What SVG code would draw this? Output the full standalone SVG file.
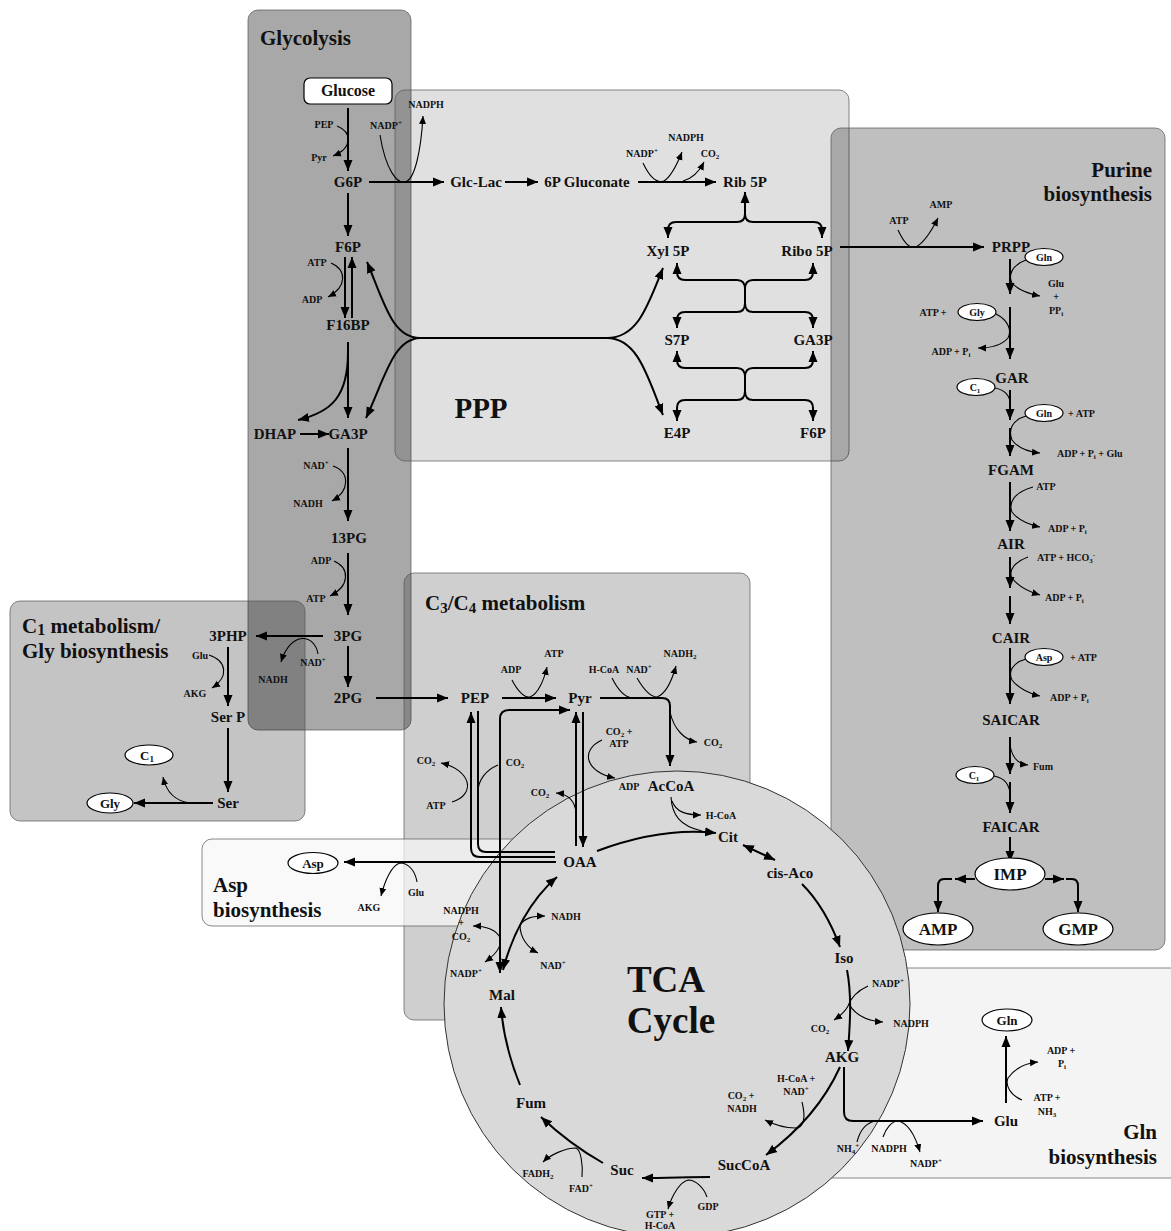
<svg xmlns="http://www.w3.org/2000/svg" width="1171" height="1231" viewBox="0 0 1171 1231">
<defs>
<marker id="A" markerUnits="userSpaceOnUse" markerWidth="12" markerHeight="10" refX="11" refY="5" orient="auto-start-reverse"><path d="M0,0.5 L11,5 L0,9.5 z" fill="#000"/></marker>
<marker id="S" markerUnits="userSpaceOnUse" markerWidth="9" markerHeight="8" refX="8" refY="4" orient="auto-start-reverse"><path d="M0,0.5 L8,4 L0,7.5 z" fill="#000"/></marker>
<style>
.box{stroke:#555;stroke-opacity:.7;stroke-width:1}
text{font-family:"Liberation Serif","Times New Roman",serif;font-weight:bold;fill:#111}
.n{font-size:15px;text-anchor:middle}
.s{font-size:10px;text-anchor:middle}
.sl{font-size:10px;text-anchor:start}
.t{font-size:21px}
.te{font-size:21px;text-anchor:end}
.m{fill:none;stroke:#000;stroke-width:2;marker-end:url(#A)}
.mm{fill:none;stroke:#000;stroke-width:2;marker-end:url(#A);marker-start:url(#A)}
.l{fill:none;stroke:#000;stroke-width:2}
.c{fill:none;stroke:#000;stroke-width:1.1;marker-end:url(#S)}
.cc{fill:none;stroke:#000;stroke-width:1.1;marker-end:url(#S);marker-start:url(#S)}
.k{fill:none;stroke:#000;stroke-width:1.1}
.e{fill:#fff;stroke:#000;stroke-width:1.2}
.sp{font-size:7px}
</style>
</defs>

<g id="compartments">
<rect class="box" x="248" y="10" width="163" height="720" rx="10" fill="#000" fill-opacity=".34"/>
<rect class="box" x="395" y="90" width="454" height="371" rx="10" fill="#000" fill-opacity=".12"/>
<rect class="box" x="10" y="601" width="295" height="220" rx="10" fill="#000" fill-opacity=".23"/>
<rect class="box" x="404" y="573" width="346" height="447" rx="10" fill="#000" fill-opacity=".19"/>
<rect class="box" x="831" y="128" width="334" height="822" rx="10" fill="#000" fill-opacity=".25"/>
<rect class="box" x="202" y="839" width="330" height="87" rx="10" fill="#f6f6f6" fill-opacity=".72"/>
<rect class="box" x="790" y="968" width="400" height="210" rx="0" fill="#f4f4f4"/>
<circle cx="677" cy="1004" r="233" fill="#d9d9d9" stroke="#333" stroke-width="1"/>
</g>

<g id="titles">
<text class="t" x="260" y="45">Glycolysis</text>
<text class="t" x="481" y="418" text-anchor="middle" style="font-size:29px">PPP</text>
<text class="te" x="1152" y="177">Purine</text>
<text class="te" x="1152" y="201">biosynthesis</text>
<text class="t" x="22" y="633">C<tspan font-size="16" dy="2">1</tspan><tspan dy="-2"> metabolism/</tspan></text>
<text class="t" x="22" y="658">Gly biosynthesis</text>
<text class="t" x="425" y="610">C<tspan font-size="15" dy="3">3</tspan><tspan dy="-3">/C</tspan><tspan font-size="15" dy="3">4</tspan><tspan dy="-3"> metabolism</tspan></text>
<text class="t" x="213" y="892">Asp</text>
<text class="t" x="213" y="917">biosynthesis</text>
<text class="te" x="1157" y="1139">Gln</text>
<text class="te" x="1157" y="1164">biosynthesis</text>
<text x="666" y="992" style="font-size:37px" text-anchor="middle">TCA</text>
<text x="671" y="1033" style="font-size:37px" text-anchor="middle">Cycle</text>
</g>

<g id="connectors">
<!-- glycolysis -->
<path class="m" d="M348,108 L348,171"/>
<path class="c" d="M337,126 C352,132 353,148 333,156"/>
<path class="m" d="M348,193 L348,236"/>
<path class="m" d="M345,257 L345,318"/>
<path class="m" d="M352,318 L352,257"/>
<path class="c" d="M331,263 C347,270 347,287 328,297"/>
<path class="m" d="M348,342 L348,418"/>
<path class="m" d="M348,352 C348,396 332,412 298,420"/>
<path class="m" d="M300,434 L329,434"/>
<path class="m" d="M348,448 L348,521"/>
<path class="c" d="M333,466 C350,472 350,491 332,501"/>
<path class="m" d="M348,553 L348,615"/>
<path class="c" d="M334,561 C350,568 350,586 330,596"/>
<path class="m" d="M348,646 L348,687"/>
<path class="m" d="M323,636 L256,636"/>
<path class="c" d="M318,654 C315,634 291,630 281,662"/>
<path class="m" d="M376,698 L448,698"/>
<!-- C1 / Gly -->
<path class="m" d="M228,647 L228,706"/>
<path class="c" d="M209,655 C227,661 229,677 212,688"/>
<path class="m" d="M228,728 L228,792"/>
<path class="m" d="M213,803 L134,803"/>
<path class="c" d="M190,803 C175,801 166,791 163,777"/>
<!-- PPP -->
<path class="m" d="M369,182 L444,182"/>
<path class="c" d="M380,135 C386,172 398,184 405,182 C415,180 421,150 423,116"/>
<path class="m" d="M505,182 L538,182"/>
<path class="m" d="M638,182 L716,182"/>
<path class="c" d="M643,163 C651,180 658,183 664,181 C672,176 678,162 682,152"/>
<path class="c" d="M683,181 C694,178 700,170 704,162"/>
<path class="m" d="M745,214 L745,192"/>
<path class="m" d="M745,214 Q745,222 737,222 L676,222 Q668,222 668,230 L668,238"/>
<path class="m" d="M745,214 Q745,222 753,222 L814,222 Q822,222 822,230 L822,238"/>
<path class="m" d="M745,289 Q745,280 737,280 L685,280 Q677,280 677,272 L677,263"/>
<path class="m" d="M745,289 Q745,280 753,280 L805,280 Q813,280 813,272 L813,263"/>
<path class="l" d="M745,288 L745,304"/>
<path class="m" d="M745,303 Q745,312 737,312 L685,312 Q677,312 677,320 L677,328"/>
<path class="m" d="M745,303 Q745,312 753,312 L805,312 Q813,312 813,320 L813,328"/>
<path class="m" d="M745,377 Q745,368 737,368 L685,368 Q677,368 677,360 L677,351"/>
<path class="m" d="M745,377 Q745,368 753,368 L805,368 Q813,368 813,360 L813,351"/>
<path class="l" d="M745,376 L745,392"/>
<path class="m" d="M745,391 Q745,400 737,400 L685,400 Q677,400 677,408 L677,421"/>
<path class="m" d="M745,391 Q745,400 753,400 L805,400 Q813,400 813,408 L813,421"/>
<path class="l" d="M420,338 L607,338"/>
<path class="m" d="M607,338 C638,338 648,305 663,268"/>
<path class="m" d="M607,338 C638,338 648,378 663,415"/>
<path class="m" d="M420,338 C392,338 384,302 367,262"/>
<path class="m" d="M420,338 C393,339 385,378 366,418"/>
<!-- purine -->
<path class="m" d="M840,247 L984,247"/>
<path class="c" d="M898,230 C905,245 911,249 916,247 C925,242 932,230 938,218"/>
<path class="m" d="M1010,259 L1010,294"/>
<path class="c" d="M1026,260 C1012,265 1008,275 1012,283 C1018,290 1030,294 1040,296"/>
<path class="m" d="M1010,307 L1010,359"/>
<path class="c" d="M996,314 C1008,320 1012,330 1008,338 C1002,345 990,348 978,348"/>
<path class="m" d="M1010,390 L1010,420"/>
<path class="k" d="M995,388 C1005,390 1010,396 1010,403"/>
<path class="m" d="M1010,428 L1010,456"/>
<path class="c" d="M1026,416 C1012,420 1008,430 1012,440 C1018,448 1030,452 1040,453"/>
<path class="m" d="M1010,482 L1010,531"/>
<path class="c" d="M1033,487 C1015,492 1008,502 1012,512 C1018,520 1030,525 1040,527"/>
<path class="m" d="M1010,557 L1010,588"/>
<path class="c" d="M1028,557 C1015,562 1008,570 1012,578 C1018,586 1030,592 1040,595"/>
<path class="m" d="M1010,596 L1010,624"/>
<path class="m" d="M1010,648 L1010,704"/>
<path class="c" d="M1026,659 C1012,663 1008,672 1012,680 C1018,688 1030,694 1040,696"/>
<path class="m" d="M1010,737 L1010,774"/>
<path class="c" d="M1010,745 C1012,758 1018,764 1028,765"/>
<path class="m" d="M1010,782 L1010,813"/>
<path class="k" d="M994,776 C1005,778 1010,785 1010,796"/>
<path class="m" d="M1010,837 L1010,862"/>
<path class="m" d="M975,879 L955,879"/>
<path class="m" d="M952,879 L944,879 Q938,879 938,886 L938,912"/>
<path class="m" d="M1045,879 L1064,879"/>
<path class="m" d="M1066,879 L1072,879 Q1078,879 1078,886 L1078,912"/>
<!-- C3/C4 -->
<path class="m" d="M502,698 L556,698"/>
<path class="c" d="M512,680 C518,692 525,698 530,697 C538,694 544,680 547,667"/>
<path class="m" d="M600,698 L662,698 Q670,698 670,706 L670,766"/>
<path class="k" d="M612,678 C618,690 624,697 632,698"/>
<path class="c" d="M637,678 C644,690 650,697 657,697 C666,694 672,680 676,666"/>
<path class="c" d="M670,712 C674,730 685,740 697,742"/>
<path class="m" d="M555,857 L480,857 Q471,857 471,848 L471,712"/>
<path class="l" d="M478,711 L478,844 Q478,852 486,852 L555,852"/>
<path class="c" d="M452,802 C476,795 472,770 441,763"/>
<path class="k" d="M498,765 C486,770 478,780 478,792"/>
<path class="mm" d="M500,973 L500,719 Q500,710 509,710 L570,710"/>
<path class="cc" d="M485,962 C495,955 502,946 500,938 C497,930 486,926 473,926"/>
<path class="m" d="M576,846 L576,712"/>
<path class="m" d="M583,712 L583,847"/>
<path class="c" d="M602,740 C580,750 585,772 615,778"/>
<path class="c" d="M576,813 C575,800 568,794 556,793"/>
<path class="m" d="M556,862 L344,862"/>
<path class="c" d="M417,882 C415,870 408,863 400,863 C392,865 385,880 381,896"/>
<!-- TCA -->
<path class="m" d="M597,851 C640,835 680,829 716,833"/>
<path class="k" d="M671,797 C672,815 680,826 702,831"/>
<path class="c" d="M672,801 C676,812 686,815 701,815"/>
<path class="mm" d="M743,845 L775,860"/>
<path class="m" d="M802,884 C818,900 830,920 840,947"/>
<path class="m" d="M847,970 C852,995 850,1025 848,1051"/>
<path class="c" d="M868,986 C855,992 850,1000 848,1006 C845,1012 840,1016 834,1020"/>
<path class="c" d="M849,1004 C855,1015 868,1021 883,1022"/>
<path class="m" d="M840,1067 C825,1100 800,1130 766,1155"/>
<path class="c" d="M802,1102 C806,1118 804,1128 795,1128 C785,1128 773,1124 765,1120"/>
<path class="m" d="M844,1067 L844,1112 Q844,1121 853,1121 L983,1121"/>
<path class="k" d="M857,1142 C860,1130 866,1123 875,1121"/>
<path class="c" d="M883,1137 C886,1128 892,1121 898,1121 C908,1123 915,1135 920,1152"/>
<path class="m" d="M1006,1103 L1006,1036"/>
<path class="c" d="M1022,1100 C1010,1095 1005,1085 1008,1078 C1015,1068 1027,1063 1038,1062"/>
<path class="m" d="M710,1177 C690,1177 665,1178 642,1178"/>
<path class="c" d="M707,1197 C704,1188 696,1180 688,1180 C680,1182 672,1195 668,1209"/>
<path class="m" d="M603,1163 C580,1150 560,1135 541,1117"/>
<path class="c" d="M582,1177 C583,1165 581,1150 576,1148 C565,1148 550,1155 543,1162"/>
<path class="m" d="M520,1085 C510,1060 503,1035 501,1007"/>
<path class="mm" d="M503,970 C512,935 530,900 557,877"/>
<path class="c" d="M520,925 C525,918 532,916 545,916"/>
<path class="c" d="M520,925 C520,938 528,948 538,953"/>
</g>

<g id="nodes">
<g id="n-glucose"><rect class="e" x="304" y="78" width="88" height="26" rx="6"/><text class="n" x="348" y="96" style="font-size:16px">Glucose</text></g>
<g id="n-g6p"><text class="n" x="348" y="187">G6P</text></g>
<g id="n-f6p"><text class="n" x="348" y="252">F6P</text></g>
<g id="n-f16bp"><text class="n" x="348" y="330">F16BP</text></g>
<g id="n-dhap"><text class="n" x="275" y="439">DHAP</text></g>
<g id="n-ga3p"><text class="n" x="348" y="439">GA3P</text></g>
<g id="n-13pg"><text class="n" x="349" y="543">13PG</text></g>
<g id="n-3pg"><text class="n" x="348" y="641">3PG</text></g>
<g id="n-2pg"><text class="n" x="348" y="703">2PG</text></g>
<g id="n-3php"><text class="n" x="228" y="641">3PHP</text></g>
<g id="n-serp"><text class="n" x="228" y="722">Ser P</text></g>
<g id="n-ser"><text class="n" x="228" y="808">Ser</text></g>
<g id="n-gly"><ellipse class="e" cx="110" cy="803" rx="23" ry="10"/><text class="n" x="110" y="808" style="font-size:13px">Gly</text></g>
<g id="n-c1a"><ellipse class="e" cx="149" cy="755" rx="24" ry="10"/><text class="n" x="147" y="760" style="font-size:13px">C<tspan font-size="9" dy="2">1</tspan></text></g>
<g id="n-glclac"><text class="n" x="476" y="187">Glc-Lac</text></g>
<g id="n-6pg"><text class="n" x="587" y="187">6P Gluconate</text></g>
<g id="n-rib5p"><text class="n" x="745" y="187">Rib 5P</text></g>
<g id="n-xyl5p"><text class="n" x="668" y="256">Xyl 5P</text></g>
<g id="n-ribo5p"><text class="n" x="807" y="256">Ribo 5P</text></g>
<g id="n-s7p"><text class="n" x="677" y="345">S7P</text></g>
<g id="n-ga3p2"><text class="n" x="813" y="345">GA3P</text></g>
<g id="n-e4p"><text class="n" x="677" y="438">E4P</text></g>
<g id="n-f6p2"><text class="n" x="813" y="438">F6P</text></g>
<g id="n-prpp"><text class="n" x="1011" y="252">PRPP</text></g>
<g id="n-gln1"><ellipse class="e" cx="1044" cy="257" rx="19" ry="8.5"/><text class="s" x="1044" y="261">Gln</text></g>
<g id="n-gly2"><ellipse class="e" cx="977" cy="312" rx="19" ry="8.5"/><text class="s" x="977" y="316">Gly</text></g>
<g id="n-gar"><text class="n" x="1012" y="383">GAR</text></g>
<g id="n-c1b"><ellipse class="e" cx="976" cy="387" rx="19" ry="8.5"/><text class="s" x="975" y="391">C<tspan class="sp" dy="2">1</tspan></text></g>
<g id="n-gln2"><ellipse class="e" cx="1044" cy="413" rx="19" ry="8.5"/><text class="s" x="1044" y="417">Gln</text></g>
<g id="n-fgam"><text class="n" x="1011" y="475">FGAM</text></g>
<g id="n-air"><text class="n" x="1011" y="549">AIR</text></g>
<g id="n-cair"><text class="n" x="1011" y="643">CAIR</text></g>
<g id="n-asp1"><ellipse class="e" cx="1044" cy="657" rx="19" ry="8.5"/><text class="s" x="1044" y="661">Asp</text></g>
<g id="n-saicar"><text class="n" x="1011" y="725">SAICAR</text></g>
<g id="n-c1c"><ellipse class="e" cx="975" cy="775" rx="19" ry="8.5"/><text class="s" x="974" y="779">C<tspan class="sp" dy="2">1</tspan></text></g>
<g id="n-faicar"><text class="n" x="1011" y="832">FAICAR</text></g>
<g id="n-imp"><ellipse class="e" cx="1010" cy="874" rx="35" ry="16"/><text class="n" x="1010" y="880" style="font-size:17px">IMP</text></g>
<g id="n-amp"><ellipse class="e" cx="938" cy="929" rx="35" ry="16"/><text class="n" x="938" y="935" style="font-size:17px">AMP</text></g>
<g id="n-gmp"><ellipse class="e" cx="1078" cy="929" rx="35" ry="16"/><text class="n" x="1078" y="935" style="font-size:17px">GMP</text></g>
<g id="n-pep"><text class="n" x="475" y="703">PEP</text></g>
<g id="n-pyr"><text class="n" x="580" y="703">Pyr</text></g>
<g id="n-oaa"><text class="n" x="580" y="867">OAA</text></g>
<g id="n-accoa"><text class="n" x="671" y="791">AcCoA</text></g>
<g id="n-asp2"><ellipse class="e" cx="313" cy="863" rx="25" ry="10.5"/><text class="n" x="313" y="868" style="font-size:13px">Asp</text></g>
<g id="n-cit"><text class="n" x="728" y="842">Cit</text></g>
<g id="n-cisaco"><text class="n" x="790" y="878">cis-Aco</text></g>
<g id="n-iso"><text class="n" x="844" y="963">Iso</text></g>
<g id="n-akg"><text class="n" x="842" y="1062">AKG</text></g>
<g id="n-succoa"><text class="n" x="744" y="1170">SucCoA</text></g>
<g id="n-suc"><text class="n" x="622" y="1175">Suc</text></g>
<g id="n-fum"><text class="n" x="531" y="1108">Fum</text></g>
<g id="n-mal"><text class="n" x="502" y="1000">Mal</text></g>
<g id="n-glu"><text class="n" x="1006" y="1126">Glu</text></g>
<g id="n-gln3"><ellipse class="e" cx="1007" cy="1020" rx="25" ry="11"/><text class="n" x="1007" y="1025" style="font-size:13px">Gln</text></g>
</g>

<g id="cofactors">
<text class="s" x="324" y="128">PEP</text>
<text class="s" x="319" y="161">Pyr</text>
<text class="s" x="317" y="266">ATP</text>
<text class="s" x="312" y="303">ADP</text>
<text class="s" x="316" y="469">NAD<tspan class="sp" dy="-4">+</tspan></text>
<text class="s" x="308" y="507">NADH</text>
<text class="s" x="321" y="564">ADP</text>
<text class="s" x="316" y="602">ATP</text>
<text class="s" x="313" y="666">NAD<tspan class="sp" dy="-4">+</tspan></text>
<text class="s" x="273" y="683">NADH</text>
<text class="s" x="386" y="129">NADP<tspan class="sp" dy="-4">+</tspan></text>
<text class="s" x="426" y="108">NADPH</text>
<text class="s" x="200" y="659">Glu</text>
<text class="s" x="195" y="697">AKG</text>
<text class="s" x="642" y="157">NADP<tspan class="sp" dy="-4">+</tspan></text>
<text class="s" x="686" y="141">NADPH</text>
<text class="s" x="710" y="157">CO<tspan class="sp" dy="2">2</tspan></text>
<text class="s" x="899" y="224">ATP</text>
<text class="s" x="941" y="208">AMP</text>
<text class="s" x="1056" y="287">Glu</text>
<text class="s" x="1056" y="300">+</text>
<text class="s" x="1056" y="314">PP<tspan class="sp" dy="2">i</tspan></text>
<text class="s" x="933" y="316">ATP +</text>
<text class="s" x="951" y="355">ADP + P<tspan class="sp" dy="2">i</tspan></text>
<text class="sl" x="1068" y="417">+ ATP</text>
<text class="sl" x="1057" y="457">ADP + P<tspan class="sp" dy="2">i</tspan><tspan dy="-2"> + Glu</tspan></text>
<text class="s" x="1046" y="490">ATP</text>
<text class="sl" x="1048" y="532">ADP + P<tspan class="sp" dy="2">i</tspan></text>
<text class="sl" x="1037" y="561">ATP + HCO<tspan class="sp" dy="2">3</tspan><tspan class="sp" dy="-6">-</tspan></text>
<text class="sl" x="1045" y="601">ADP + P<tspan class="sp" dy="2">i</tspan></text>
<text class="sl" x="1070" y="661">+ ATP</text>
<text class="sl" x="1050" y="701">ADP + P<tspan class="sp" dy="2">i</tspan></text>
<text class="sl" x="1033" y="770">Fum</text>
<text class="s" x="511" y="673">ADP</text>
<text class="s" x="554" y="657">ATP</text>
<text class="s" x="604" y="673">H-CoA</text>
<text class="s" x="639" y="673">NAD<tspan class="sp" dy="-4">+</tspan></text>
<text class="s" x="680" y="657">NADH<tspan class="sp" dy="2">2</tspan></text>
<text class="s" x="713" y="746">CO<tspan class="sp" dy="2">2</tspan></text>
<text class="s" x="426" y="764">CO<tspan class="sp" dy="2">2</tspan></text>
<text class="s" x="436" y="809">ATP</text>
<text class="s" x="515" y="766">CO<tspan class="sp" dy="2">2</tspan></text>
<text class="s" x="619" y="735">CO<tspan class="sp" dy="2">2</tspan><tspan dy="-2"> +</tspan></text>
<text class="s" x="619" y="747">ATP</text>
<text class="s" x="540" y="796">CO<tspan class="sp" dy="2">2</tspan></text>
<text class="s" x="629" y="790">ADP</text>
<text class="s" x="721" y="819">H-CoA</text>
<text class="s" x="416" y="896">Glu</text>
<text class="s" x="369" y="911">AKG</text>
<text class="s" x="461" y="914">NADPH</text>
<text class="s" x="461" y="926">+</text>
<text class="s" x="461" y="940">CO<tspan class="sp" dy="2">2</tspan></text>
<text class="s" x="466" y="977">NADP<tspan class="sp" dy="-4">+</tspan></text>
<text class="s" x="566" y="920">NADH</text>
<text class="s" x="553" y="969">NAD<tspan class="sp" dy="-4">+</tspan></text>
<text class="s" x="888" y="987">NADP<tspan class="sp" dy="-4">+</tspan></text>
<text class="s" x="911" y="1027">NADPH</text>
<text class="s" x="820" y="1032">CO<tspan class="sp" dy="2">2</tspan></text>
<text class="s" x="796" y="1082">H-CoA +</text>
<text class="s" x="796" y="1095">NAD<tspan class="sp" dy="-4">+</tspan></text>
<text class="s" x="741" y="1099">CO<tspan class="sp" dy="2">2</tspan><tspan dy="-2"> +</tspan></text>
<text class="s" x="742" y="1112">NADH</text>
<text class="s" x="708" y="1210">GDP</text>
<text class="s" x="660" y="1218">GTP +</text>
<text class="s" x="660" y="1229">H-CoA</text>
<text class="s" x="538" y="1177">FADH<tspan class="sp" dy="2">2</tspan></text>
<text class="s" x="581" y="1192">FAD<tspan class="sp" dy="-4">+</tspan></text>
<text class="s" x="1061" y="1054">ADP +</text>
<text class="s" x="1062" y="1067">P<tspan class="sp" dy="2">i</tspan></text>
<text class="s" x="1047" y="1101">ATP +</text>
<text class="s" x="1047" y="1115">NH<tspan class="sp" dy="2">3</tspan></text>
<text class="s" x="848" y="1152">NH<tspan class="sp" dy="2">4</tspan><tspan class="sp" dy="-6">+</tspan></text>
<text class="s" x="889" y="1152">NADPH</text>
<text class="s" x="926" y="1167">NADP<tspan class="sp" dy="-4">+</tspan></text>
</g>
</svg>
